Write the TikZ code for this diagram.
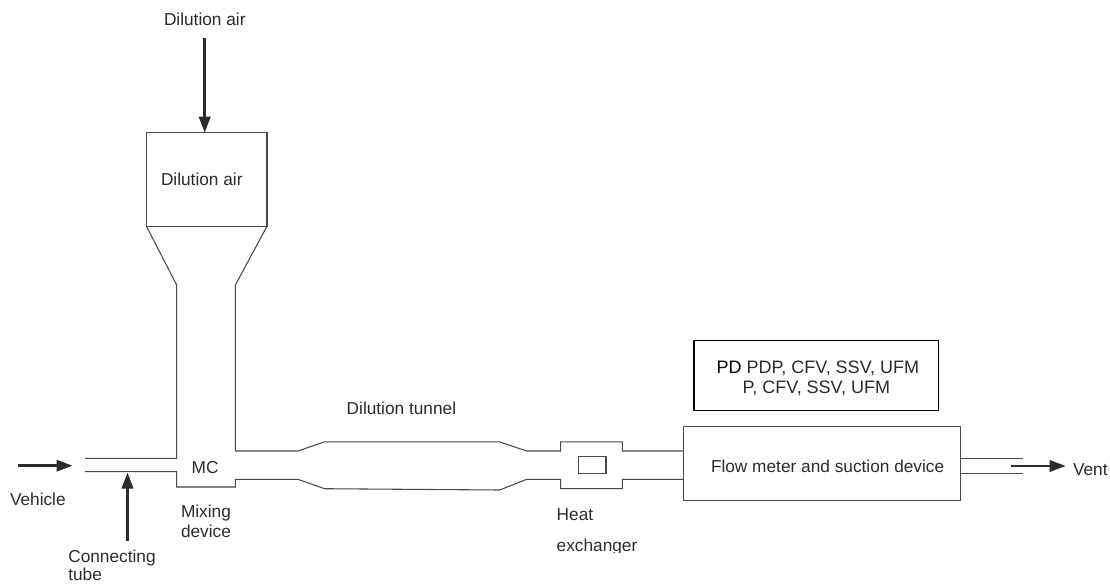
\documentclass[tikz,border=0pt]{standalone}
\usepackage{fontspec}
\setmainfont{Liberation Sans}
\usetikzlibrary{arrows.meta}
\definecolor{ink}{HTML}{2B2B2B}
\definecolor{pipe}{HTML}{4A4A4A}
\tikzset{
  pipeline/.style={draw=pipe,line width=0.8pt,line join=miter},
  boxshape/.style={draw=pipe,line width=0.8pt,inner sep=0pt,outer sep=0pt},
  flow/.style={draw=ink,line width=2pt,-{Triangle[length=12pt,width=8.5pt]},shorten >=0pt},
  label/.style={anchor=base west,inner sep=0pt,outer sep=0pt,text=ink,font=\fontsize{12.95pt}{15pt}\selectfont},
  pdlabel/.style={label,font=\fontsize{13.5pt}{15pt}\selectfont},
}
\begin{document}
\begin{tikzpicture}[x=0.75pt,y=-0.75pt]
\useasboundingbox (0,0) rectangle (1110,583);
% boxes
\node[boxshape,minimum width=90.4pt,minimum height=70.2pt] (airbox) at (206.7,179.5) {};
\node[boxshape,minimum width=208pt,minimum height=55.7pt] (meter) at (822,463.8) {};
\node[boxshape,draw=black,minimum width=183.5pt,minimum height=52.7pt] (pdbox) at (816.3,375.8) {};
\node[boxshape,minimum width=20.7pt,minimum height=12.5pt] (hx) at (592.2,465) {};
% funnel and duct
\draw[pipeline] (airbox.south west) -- (176.7,285) -- (176.7,458.3) -- (85,458.3);
\draw[pipeline] (airbox.south east) -- (235.4,285) -- (235.4,451) -- (298,451) -- (324.5,441.8)
  -- (499.3,441.8) -- (526.7,451) -- (560.7,451) -- (560.7,441.8) -- (622.3,441.8) -- (622.3,451) -- (meter.west |- 0,451);
\draw[pipeline] (85,471.7) -- (176.7,471.7) -- (176.7,487) -- (235.4,487) -- (235.4,479.3) -- (298,479.3) -- (324.5,488.7)
  -- (499.7,490) -- (526.7,479.3) -- (560.7,479.3) -- (560.7,488.7) -- (622.3,488.7) -- (622.3,479.3) -- (meter.west |- 0,479.3);
% vent pipe
\coordinate (ventend) at (1022.7,458);
\draw[pipeline,line width=0.65pt] (meter.east |- ventend) -- (ventend);
\draw[pipeline,line width=0.65pt] (meter.east |- 0,473.3) -- (ventend |- 0,473.3);
% arrows
\coordinate (airstart) at (204.7,38);
\coordinate (vehstart) at (17.5,465.7);
\coordinate (vehend) at (72.5,465.7);
\coordinate (tubestart) at (127.5,540.5);
\coordinate (tubeend) at (127.5,472.5);
\coordinate (ventstart) at (1011.3,466);
\coordinate (ventarrow) at (1065.7,466);
\draw[flow] (airstart) -- (airstart |- airbox.north);
\draw[flow] (vehstart) -- (vehend);
\draw[flow] (tubestart) -- (tubeend);
\draw[flow] (ventstart) -- (ventarrow);
% labels
\node[label] (tairtop) at (164,25) {Dilution air};
\node[label] (tairbox) at (161,185) {Dilution air};
\node[label] (tveh) at (10,505) {Vehicle};
\node[label] (tmc) at (191.7,473) {MC};
\node[label] (tmix) at (181,517.3) {Mixing};
\node[label] (tdev) at (181,537.7) {device};
\node[label] (tconn) at (68.3,562.7) {Connecting};
\node[label] (ttube) at (68.3,580.5) {tube};
\node[label] (ttun) at (346.7,414.7) {Dilution tunnel};
\node[label] (theat) at (556.7,520) {Heat};
\begin{scope}
\clip (550,535) rectangle (650,552.5);
\node[label] (texch) at (556.7,551.7) {exchanger};
\end{scope}
\node[pdlabel] (tpd) at (716.7,373.3) {\textcolor{black}{PD} PDP, CFV, SSV, UFM};
\node[pdlabel] (tpd2) at (742.7,393.3) {P, CFV, SSV, UFM};
\node[label] (tflow) at (711,472.7) {Flow meter and suction device};
\node[label] (tvent) at (1073,475) {Vent};
\end{tikzpicture}
\end{document}
